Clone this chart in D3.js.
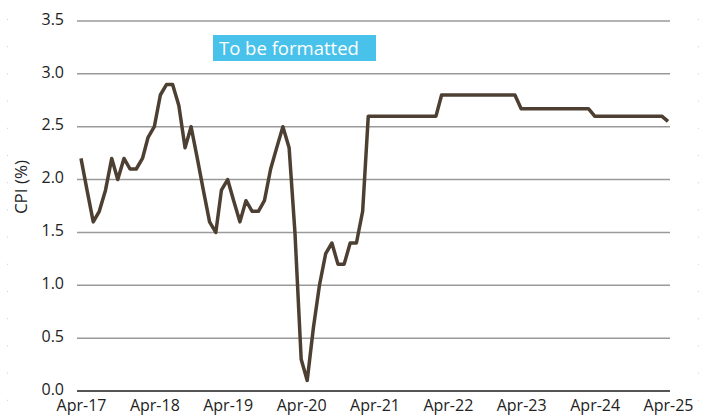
<!DOCTYPE html>
<html>
<head>
<meta charset="utf-8">
<script src="https://cdn.jsdelivr.net/npm/d3@7"></script>
<style>
  html, body { margin: 0; padding: 0; background: #fff; }
  svg { display: block; }
  text { font-family: "Open Sans", "Noto Sans", sans-serif; }
</style>
</head>
<body>
<svg id="chart" width="709" height="416"></svg>
<script>
// ---- data ----
const startMonth = "2017-04";
const cpiValues = [
  2.2, 1.9, 1.6, 1.7, 1.9, 2.2, 2.0, 2.2, 2.1, 2.1, 2.2, 2.4,
  2.5, 2.8, 2.9, 2.9, 2.7, 2.3, 2.5, 2.2, 1.9, 1.6, 1.5, 1.9,
  2.0, 1.8, 1.6, 1.8, 1.7, 1.7, 1.8, 2.1, 2.3, 2.5, 2.3, 1.5,
  0.3, 0.1, 0.6, 1.0, 1.3, 1.4, 1.2, 1.2, 1.4, 1.4, 1.7, 2.6,
  2.6, 2.6, 2.6, 2.6, 2.6, 2.6, 2.6, 2.6, 2.6, 2.6, 2.6, 2.8,
  2.8, 2.8, 2.8, 2.8, 2.8, 2.8, 2.8, 2.8, 2.8, 2.8, 2.8, 2.8,
  2.67, 2.67, 2.67, 2.67, 2.67, 2.67, 2.67, 2.67, 2.67, 2.67, 2.67, 2.67,
  2.6, 2.6, 2.6, 2.6, 2.6, 2.6, 2.6, 2.6, 2.6, 2.6, 2.6, 2.6,
  2.55
];
const yTicks = [0, 0.5, 1.0, 1.5, 2.0, 2.5, 3.0, 3.5];
const xTickLabels = ["Apr-17","Apr-18","Apr-19","Apr-20","Apr-21","Apr-22","Apr-23","Apr-24","Apr-25"];
const yAxisTitle = "CPI (%)";
const boxTitle = "To be formatted";

// ---- build ----
const parse = d3.timeParse("%Y-%m");
const start = parse(startMonth);
const data = cpiValues.map((v, i) => ({ date: d3.timeMonth.offset(start, i), value: v }));
const tickDates = xTickLabels.map((_, i) => d3.timeYear.offset(start, i));

const svg = d3.select("#chart");
const gridLeft = 77, gridRight = 670;

const x = d3.scaleTime()
  .domain([start, d3.timeMonth.offset(start, 96)])
  .range([81, 668]);
const y = d3.scaleLinear().domain([0, 3.5]).range([391, 21]);

// faint edge dots
const dotYs = d3.range(19, 416, 27.2);
svg.append("g").selectAll("rect").data(dotYs).join("rect")
  .attr("x", 7).attr("y", d => d).attr("width", 1).attr("height", 1).attr("fill", "#ccc");
svg.append("g").selectAll("rect").data(dotYs).join("rect")
  .attr("x", 698).attr("y", d => d).attr("width", 1).attr("height", 1).attr("fill", "#ccc");

// gridlines
svg.append("g").selectAll("line").data(yTicks.filter(d => d > 0)).join("line")
  .attr("x1", gridLeft).attr("x2", gridRight)
  .attr("y1", d => y(d)).attr("y2", d => y(d))
  .attr("stroke", "#9a9a9a").attr("stroke-width", 1.5);

// baseline
svg.append("line")
  .attr("x1", gridLeft).attr("x2", gridRight)
  .attr("y1", y(0)).attr("y2", y(0))
  .attr("stroke", "#555").attr("stroke-width", 2);

// y axis labels
const yAxis = d3.axisLeft(y).tickValues(yTicks).tickFormat(d3.format(".1f")).tickSize(0).tickPadding(0);
const yg = svg.append("g").attr("transform", "translate(64,0)").call(yAxis);
yg.select(".domain").remove();
yg.selectAll("text").attr("font-size", 16).attr("fill", "#222")
  .attr("font-family", "'Open Sans', sans-serif").attr("dy", "0.2em");

// x axis labels
const xAxis = d3.axisBottom(x).tickValues(tickDates)
  .tickFormat((d, i) => xTickLabels[i]).tickSize(0).tickPadding(0);
const xg = svg.append("g").attr("transform", "translate(0,398)").call(xAxis);
xg.select(".domain").remove();
xg.selectAll("text").attr("font-size", 16).attr("fill", "#222")
  .attr("font-family", "'Open Sans', sans-serif").attr("dy", "0.8em");

// y axis title
svg.append("text")
  .attr("transform", "translate(27,187) rotate(-90)")
  .attr("text-anchor", "middle")
  .attr("font-size", 17).attr("fill", "#222")
  .text(yAxisTitle);

// line
const line = d3.line().x(d => x(d.date)).y(d => y(d.value));
svg.append("path").datum(data)
  .attr("d", line)
  .attr("fill", "none")
  .attr("stroke", "#4d4032")
  .attr("stroke-width", 3.5)
  .attr("stroke-linejoin", "round");

// title box
svg.append("rect").attr("x", 213).attr("y", 35).attr("width", 163).attr("height", 26).attr("fill", "#48c2ea");
svg.append("text").attr("x", 219).attr("y", 54.5)
  .attr("font-size", 18.5).attr("fill", "#fff").text(boxTitle);
</script>
</body>
</html>
